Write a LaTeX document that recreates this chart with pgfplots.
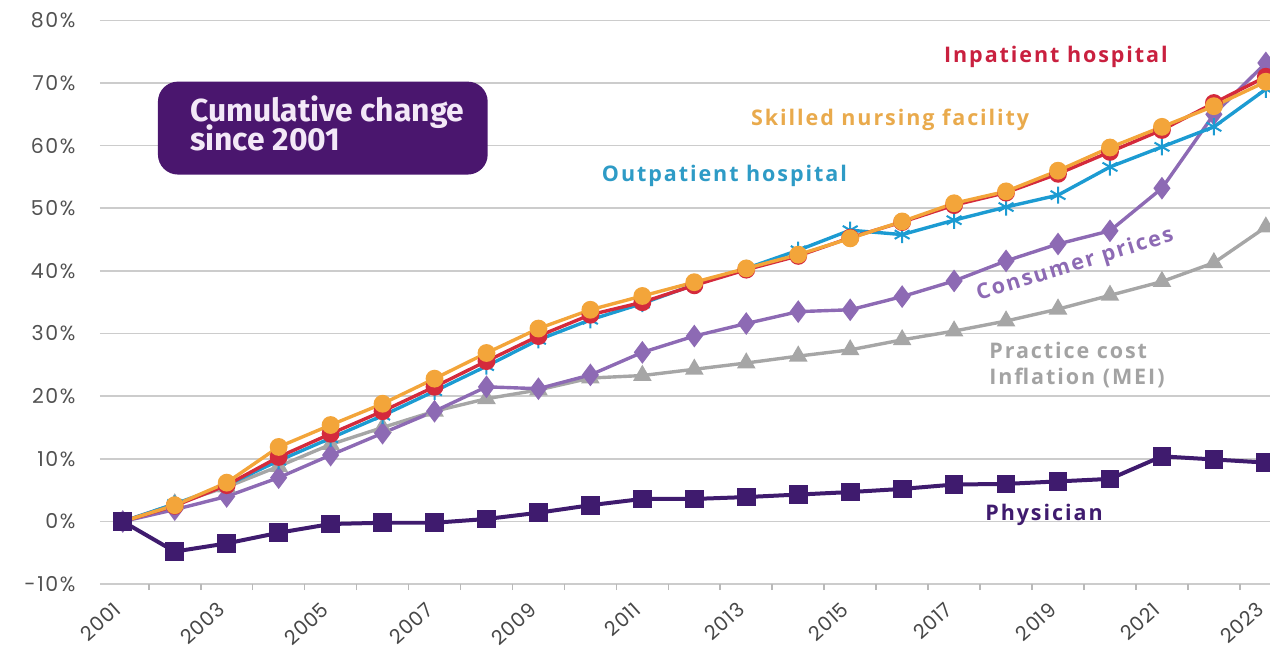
\documentclass[border=0pt]{standalone}
\usepackage{fontspec}
\setmainfont{Open Sans}
\newfontfamily\tickfont{Poppins}[LetterSpace=8]
\newfontfamily\yearfont{Poppins}[LetterSpace=4]
\newfontfamily\labfont{Open Sans}[LetterSpace=9]
\newfontfamily\titlefont{Fira Sans}
\usepackage{pgfplots}
\pgfplotsset{compat=1.18}
\definecolor{physc}{HTML}{3F1B6E}
\definecolor{boxc}{HTML}{4A166E}
\definecolor{cpic}{HTML}{8D6AB4}
\definecolor{meic}{HTML}{A6A6A6}
\definecolor{meilab}{HTML}{A3A3A3}
\definecolor{outc}{HTML}{1C9BD2}
\definecolor{outlab}{HTML}{2E9BC6}
\definecolor{inpc}{HTML}{D42A3C}
\definecolor{inplab}{HTML}{C9203F}
\definecolor{snfc}{HTML}{F3A53A}
\definecolor{snflab}{HTML}{E9AA4C}
\definecolor{titletext}{HTML}{F3E8F7}

\pgfplotstableread{
year phys mei cpi out inp snf
2001 0 0 0 0 0 0
2002 -4.8 2.8 1.9 2.8 2.5 2.6
2003 -3.5 5.5 4.0 5.8 5.8 6.2
2004 -1.8 8.8 7.0 9.7 10.3 11.9
2005 -0.4 12.3 10.6 13.3 14.0 15.4
2006 -0.2 15.0 14.1 16.9 17.6 18.8
2007 -0.2 17.6 17.6 20.8 21.5 22.8
2008 0.4 19.6 21.5 24.8 25.6 26.9
2009 1.4 21.0 21.2 29.0 29.6 30.8
2010 2.6 22.9 23.4 32.2 33.0 33.8
2011 3.6 23.3 27.0 34.8 35.0 36.0
2012 3.6 24.3 29.6 37.8 37.7 38.2
2013 3.9 25.3 31.6 40.4 40.2 40.4
2014 4.3 26.4 33.5 43.3 42.4 42.6
2015 4.7 27.4 33.8 46.5 45.3 45.2
2016 5.2 29.0 35.9 45.8 47.8 47.9
2017 5.9 30.4 38.4 48.1 50.5 50.8
2018 6.0 32.0 41.6 50.2 52.5 52.7
2019 6.4 33.9 44.3 52.1 55.5 56.0
2020 6.8 36.1 46.4 56.6 59.0 59.7
2021 10.4 38.3 53.2 59.8 62.5 63.0
2022 9.9 41.3 65.0 63.0 66.8 66.3
2023 9.4 47.0 73.2 69.0 71.0 70.2
}\datatable

\begin{document}
\begin{tikzpicture}
\begin{axis}[
  at={(0,0)}, anchor=south west,
  scale only axis, width=585.5bp, height=292.3bp,
  xmin=2000.56, xmax=2023.08, ymin=-10, ymax=83.25,
  axis line style={draw=none},
  xtick pos=bottom, ytick pos=left,
  ytick={-10,0,10,20,30,40,50,60,70,80},
  yticklabels={-10\%,0\%,10\%,20\%,30\%,40\%,50\%,60\%,70\%,80\%},
  yticklabel style={font=\tickfont\fontsize{10.3}{12}\selectfont, text=black!68, anchor=east, inner sep=0pt, xshift=-12bp},
  xtick={2001,2003,2005,2007,2009,2011,2013,2015,2017,2019,2021,2023},
  xticklabels={2001,2003,2005,2007,2009,2011,2013,2015,2017,2019,2021,2023},
  xticklabel style={font=\yearfont\fontsize{10}{12}\selectfont, text=black!72, xshift=-2.5bp, yshift=-11bp, rotate=42, anchor=east, inner sep=0pt},
  minor xtick={2001.5,2002.5,...,2022.5},
  major tick length=0pt, minor tick length=3bp,
  xtick align=outside,
  minor tick style={gray!55, line width=0.8pt},
  ymajorgrids, major grid style={gray!40, line width=0.8pt},
  clip=true,
]
\addplot[meic, line width=1.7bp, mark=triangle*, mark size=3.7bp, mark options={fill=meic, draw=meic}] table[x=year,y=mei]{\datatable};
\addplot[cpic, line width=1.7bp, mark=diamond*, mark size=4.3bp, mark options={fill=cpic, draw=cpic}] table[x=year,y=cpi]{\datatable};
\addplot[outc, line width=1.7bp, mark=asterisk, mark size=4.3bp, mark options={line width=1bp}] table[x=year,y=out]{\datatable};
\addplot[inpc, line width=1.7bp, mark=*, mark size=3.6bp, mark options={fill=inpc, draw=inpc}] table[x=year,y=inp]{\datatable};
\addplot[snfc, line width=1.7bp, mark=*, mark size=3.6bp, mark options={fill=snfc, draw=snfc}] table[x=year,y=snf]{\datatable};
\addplot[physc, line width=2bp, mark=square*, mark size=3.7bp, mark options={fill=physc, draw=physc}] table[x=year,y=phys]{\datatable};

\node[fill=boxc, rounded corners=10bp, minimum width=165bp, minimum height=46.5bp, inner sep=0pt] at (axis cs:2004.85,62.8) {};
\node[anchor=base west, inner sep=0pt, text=titletext, font=\titlefont\bfseries\fontsize{16}{18}\selectfont] at (axis cs:2002.29,63.8) {Cumulative change};
\node[anchor=base west, inner sep=0pt, text=titletext, font=\titlefont\bfseries\fontsize{16}{18}\selectfont] at (axis cs:2002.29,59.2) {since 2001};

\node[text=inplab, font=\labfont\bfseries\fontsize{10.8}{12}\selectfont] at (axis cs:2018.96,74.2) {Inpatient hospital};
\node[text=snflab, font=\labfont\bfseries\fontsize{10.8}{12}\selectfont] at (axis cs:2015.77,64.1) {Skilled nursing facility};
\node[text=outlab, font=\labfont\bfseries\fontsize{10.8}{12}\selectfont] at (axis cs:2012.58,55.2) {Outpatient hospital};
\node[text=cpic, rotate=17, font=\labfont\bfseries\fontsize{10.8}{12}\selectfont] at (axis cs:2019.33,40.9) {Consumer prices};
\node[text=meilab, anchor=west, align=left, inner sep=0pt, font=\labfont\bfseries\fontsize{10.8}{13}\selectfont] at (axis cs:2017.67,25.0) {Practice cost\\Inflation (MEI)};
\node[text=physc, font=\labfont\bfseries\fontsize{10.8}{12}\selectfont] at (axis cs:2018.73,1.0) {Physician};
\end{axis}
\pgfresetboundingbox
\path (-50bp,-33.2bp) rectangle (585.5bp,292.3bp);
\end{tikzpicture}
\end{document}
